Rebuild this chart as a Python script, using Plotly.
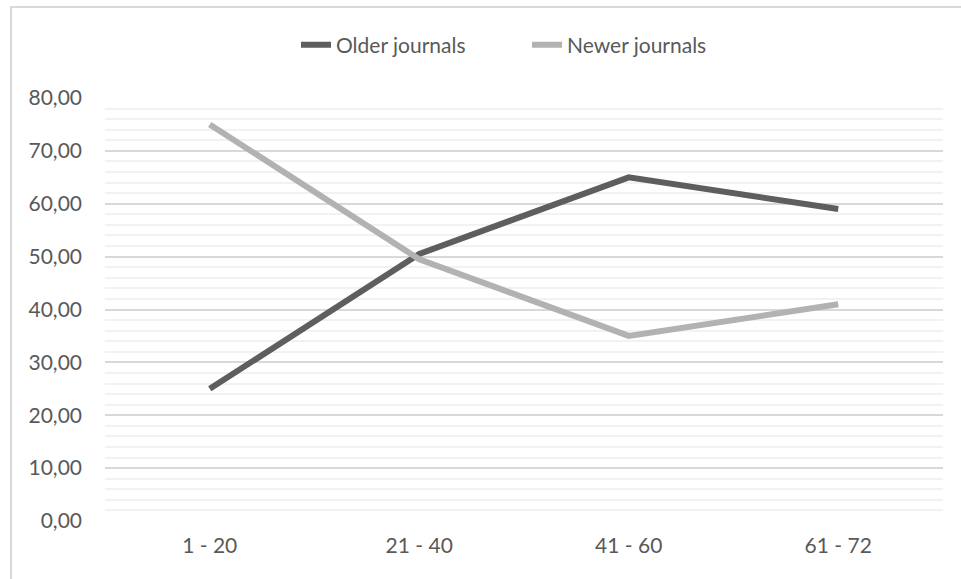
import plotly.graph_objects as go

categories = ["1 - 20", "21 - 40", "41 - 60", "61 - 72"]
older = [25.0, 50.5, 65.0, 59.0]
newer = [75.0, 49.5, 35.0, 41.0]

W, H = 961, 579
ml, mr, mt, mb = 105, 18, 98, 58
pw, ph = W - ml - mr, H - mt - mb

fig = go.Figure()
fig.add_trace(go.Scatter(x=categories, y=older, mode="lines", name="Older journals",
                         line=dict(color="#5e5e5e", width=6)))
fig.add_trace(go.Scatter(x=categories, y=newer, mode="lines", name="Newer journals",
                         line=dict(color="#b2b2b2", width=6)))

font = dict(family="Lato, Open Sans, sans-serif", size=21, color="#595959")

fig.update_layout(
    width=W, height=H,
    margin=dict(l=ml, r=mr, t=mt, b=mb),
    paper_bgcolor="white", plot_bgcolor="white",
    font=font,
    showlegend=True,
    legend=dict(orientation="h", x=(296 - ml) / pw, xanchor="left", y=1 + (98 - 45) / ph, yanchor="middle",
                font=font, entrywidth=186, entrywidthmode="pixels", tracegroupgap=0),
    xaxis=dict(type="category", range=[-0.5, 3.5], showgrid=False, showline=False,
               ticks="", ticklabelstandoff=10, tickfont=font, zeroline=False),
    yaxis=dict(range=[0, 80], dtick=10, tickformat=".2f",
               showgrid=True, gridcolor="#d9d9d9", gridwidth=1.5,
               minor=dict(dtick=2, showgrid=True, gridcolor="#f2f2f2", gridwidth=1.5),
               showline=False, zeroline=False, ticks="", ticklabelstandoff=22, tickfont=font),
    separators=", ",
    shapes=[dict(type="rect", xref="paper", yref="paper",
                 x0=(11 - ml) / pw, x1=(W + 20 - ml) / pw,
                 y0=-(mb + 20) / ph, y1=1 + (mt - 7) / ph,
                 line=dict(color="#d9d9d9", width=2), fillcolor="rgba(0,0,0,0)", layer="below")],
)

fig.write_html("out.html", config={"displayModeBar": False},
               post_script="document.body.style.margin='0';document.body.style.overflow='hidden';"
                           "document.documentElement.style.overflow='hidden';")
